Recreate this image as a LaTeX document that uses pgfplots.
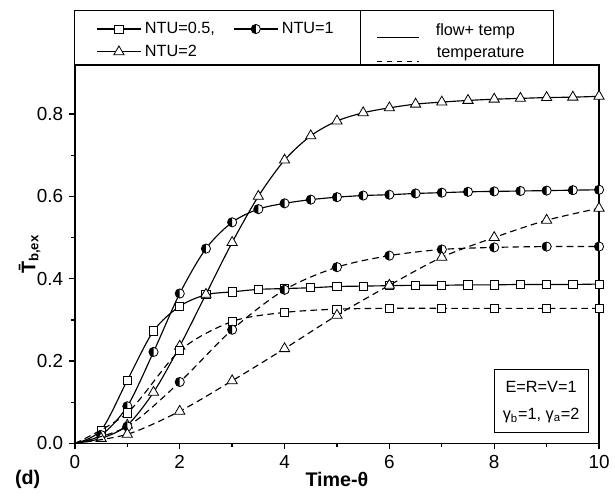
\documentclass[border=0pt]{standalone}
\usepackage{fontspec}
\setmainfont{Liberation Sans}
\usepackage{pgfplots}
\pgfplotsset{compat=1.18}

% half-filled circle marker (left half black)
\pgfdeclareplotmark{halfcirc}{%
  \pgfpathcircle{\pgfpointorigin}{\pgfplotmarksize}%
  \pgfsetfillcolor{white}%
  \pgfusepathqfillstroke
  \pgfpathmoveto{\pgfqpoint{0pt}{\pgfplotmarksize}}%
  \pgfpatharc{90}{270}{\pgfplotmarksize}%
  \pgfpathclose
  \pgfsetfillcolor{black}%
  \pgfusepathqfill
}
\newcommand\legfont{\fontsize{9.9}{11.5}\selectfont}

\begin{document}
\begin{tikzpicture}
\begin{axis}[
  scale only axis, width=319.2pt, height=230.4pt,
  xmin=0, xmax=10, ymin=0, ymax=0.919,
  xtick={0,2,4,6,8,10}, minor x tick num=1,
  ytick={0,0.2,0.4,0.6,0.8}, minor y tick num=1,
  tick align=outside, tick pos=left,
  major tick length=3.6pt, minor tick length=2.2pt,
  axis line style={line width=0.8pt},
  every tick/.style={black, line width=0.8pt},
  /pgf/number format/assume math mode=true,
  yticklabel style={/pgf/number format/.cd, fixed, fixed zerofill, precision=1},
  ticklabel style={font=\fontsize{11.5}{13}\selectfont},
  xlabel={\textbf{Time-θ}},
  ylabel={\textbf{\={T}\textsubscript{b,ex}}},
  xlabel style={font=\fontsize{12}{14}\selectfont, at={(axis description cs:0.5,-0.096)}, anchor=center},
  ylabel style={font=\fontsize{12}{14}\selectfont, at={(axis description cs:-0.0865,0.5)}, anchor=center},
  clip mode=individual,
  legend columns=2,
  legend cell align=left,
  legend style={at={(rel axis cs:0.04,1.065)}, anchor=west, draw=none, fill=none,
    inner sep=0pt, font=\legfont, row sep=1.5pt,
    /tikz/every even column/.append style={column sep=9pt}},
  legend image code/.code={\draw[#1, mark indices={2}] plot coordinates {(0pt,0pt)(13.5pt,0pt)(27pt,0pt)};},
  solidline/.style={black, line width=0.7pt, smooth},
  dashline/.style={black, line width=0.7pt, smooth, dash pattern=on 4pt off 2.6pt},
  sq/.style={mark=square*, mark size=2.5pt, mark options={fill=white, solid, line width=0.5pt}},
  hc/.style={mark=halfcirc, mark size=2.8pt, mark options={solid, line width=0.5pt}},
  tri/.style={mark=triangle*, mark size=3.6pt, mark options={fill=white, solid, line width=0.5pt}},
]
% flow + temperature (solid)
\addplot[solidline, sq, mark indices={2,...,21}] coordinates {
(0,0)(0.5,0.032)(1,0.153)(1.5,0.273)(2,0.333)(2.5,0.361)(3,0.368)(3.5,0.374)
(4,0.376)(4.5,0.378)(5,0.381)(5.5,0.382)(6,0.383)(6.5,0.384)(7,0.384)
(7.5,0.385)(8,0.385)(8.5,0.386)(9,0.386)(9.5,0.386)(10,0.387)};
\addlegendentry{NTU=0.5,}
\addplot[solidline, hc, mark indices={2,...,21}] coordinates {
(0,0)(0.5,0.02)(1,0.09)(1.5,0.222)(2,0.364)(2.5,0.473)(3,0.537)(3.5,0.569)
(4,0.583)(4.5,0.592)(5,0.598)(5.5,0.602)(6,0.604)(6.5,0.607)(7,0.609)
(7.5,0.611)(8,0.612)(8.5,0.613)(9,0.614)(9.5,0.615)(10,0.616)};
\addlegendentry{NTU=1}
\addplot[solidline, tri, mark indices={2,...,21}] coordinates {
(0,0)(0.5,0.012)(1,0.044)(1.5,0.124)(2,0.236)(2.5,0.362)(3,0.488)(3.5,0.600)
(4,0.688)(4.5,0.747)(5,0.783)(5.5,0.803)(6,0.815)(6.5,0.824)(7,0.829)
(7.5,0.833)(8,0.836)(8.5,0.838)(9,0.840)(9.5,0.841)(10,0.843)};
\addlegendentry{NTU=2}
% temperature only (dashed)
\addplot[dashline, sq, mark indices={2,...,11}, forget plot] coordinates {
(0,0)(1,0.074)(2,0.225)(3,0.296)(4,0.318)(5,0.326)(6,0.328)(7,0.328)
(8,0.328)(9,0.328)(10,0.328)};
\addplot[dashline, hc, mark indices={2,...,11}, forget plot] coordinates {
(0,0)(1,0.041)(2,0.149)(3,0.276)(4,0.373)(5,0.428)(6,0.456)(7,0.471)
(8,0.476)(9,0.478)(10,0.478)};
\addplot[dashline, tri, mark indices={2,...,11}, forget plot] coordinates {
(0,0)(1,0.022)(2,0.078)(3,0.152)(4,0.230)(5,0.311)(6,0.384)(7,0.452)
(8,0.500)(9,0.542)(10,0.571)};

% legend frame and line-style key
\draw[line width=0.6pt] (rel axis cs:0,1) rectangle (rel axis cs:0.914,1.143);
\draw[line width=0.6pt] (rel axis cs:0.545,1) -- (rel axis cs:0.545,1.143);
\draw[line width=0.6pt] (rel axis cs:0.577,1.0737) -- (rel axis cs:0.656,1.0737);
\draw[line width=0.6pt, dash pattern=on 3pt off 3pt] (rel axis cs:0.577,1.0104) -- (rel axis cs:0.656,1.0104);
\node[anchor=west, inner sep=0pt, font=\legfont] at (rel axis cs:0.688,1.0893) {flow+ temp};
\node[anchor=west, inner sep=0pt, font=\legfont] at (rel axis cs:0.690,1.0286) {temperature};

% parameter box
\draw[line width=0.5pt] (rel axis cs:0.800,0.028) rectangle (rel axis cs:0.979,0.195);
\node[font=\legfont] at (rel axis cs:0.8895,0.149) {E=R=V=1};
\node[font=\legfont] at (rel axis cs:0.8895,0.0737) {γ\textsubscript{b}=1, γ\textsubscript{a}=2};

\node[font=\bfseries\fontsize{12}{14}\selectfont] at (rel axis cs:-0.090,-0.096) {(d)};
\path (rel axis cs:-0.1429,-0.1484) rectangle (rel axis cs:1.0132,1.1719);
\end{axis}
\end{tikzpicture}
\end{document}
